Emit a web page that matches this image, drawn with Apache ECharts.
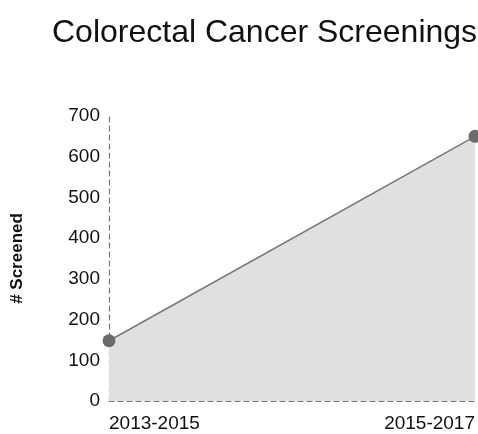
<!DOCTYPE html>
<html>
<head>
<meta charset="utf-8">
<script src="https://cdn.jsdelivr.net/npm/echarts@6/dist/echarts.min.js"></script>
<style>
  html, body { margin: 0; padding: 0; background: #fff; }
  #main { width: 478px; height: 434px; }
</style>
</head>
<body>
<div id="main"></div>
<script>
var periods = ["2013-2015", "2015-2017"];
var screened = [148, 650];
var yTicks = [0, 100, 200, 300, 400, 500, 600, 700];

var chartDom = document.getElementById("main");
var myChart = echarts.init(chartDom);
var font = "Liberation Sans, Arial, sans-serif";

var option = {
  animation: false,
  title: {
    text: "Colorectal Cancer Screenings",
    left: 47,
    top: 12,
    textStyle: { fontFamily: font, fontSize: 32, fontWeight: "normal", color: "#111" },
  },
  grid: { left: 109, right: 3, top: 116, bottom: 33, outerBoundsMode: "none", containLabel: false },
  xAxis: {
    type: "category",
    data: periods,
    boundaryGap: false,
    axisLine: { lineStyle: { color: "#777", type: [5, 4], width: 1.2 } },
    axisTick: { show: false },
    axisLabel: {
      fontFamily: font, fontSize: 19, color: "#111", margin: 13,
      alignMinLabel: "left", alignMaxLabel: "right",
    },
  },
  yAxis: {
    type: "value",
    min: yTicks[0],
    max: yTicks[yTicks.length - 1],
    interval: 100,
    name: "# Screened",
    nameLocation: "middle",
    nameGap: 83,
    nameTextStyle: { fontFamily: font, fontSize: 17, fontWeight: "bold", color: "#111" },
    axisLine: { show: true, lineStyle: { color: "#777", type: [5, 4], width: 1.2 } },
    axisTick: { show: false },
    splitLine: { show: false },
    axisLabel: { fontFamily: font, fontSize: 19, color: "#111", margin: 9 },
  },
  series: [
    {
      type: "line",
      data: screened,
      symbol: "circle",
      symbolSize: 13,
      clip: false,
      itemStyle: { color: "#6b6b6b" },
      lineStyle: { color: "#777", width: 1.5 },
      areaStyle: { color: "#e0e0e0", opacity: 1 },
    },
  ],
};

option && myChart.setOption(option);
</script>
</body>
</html>
